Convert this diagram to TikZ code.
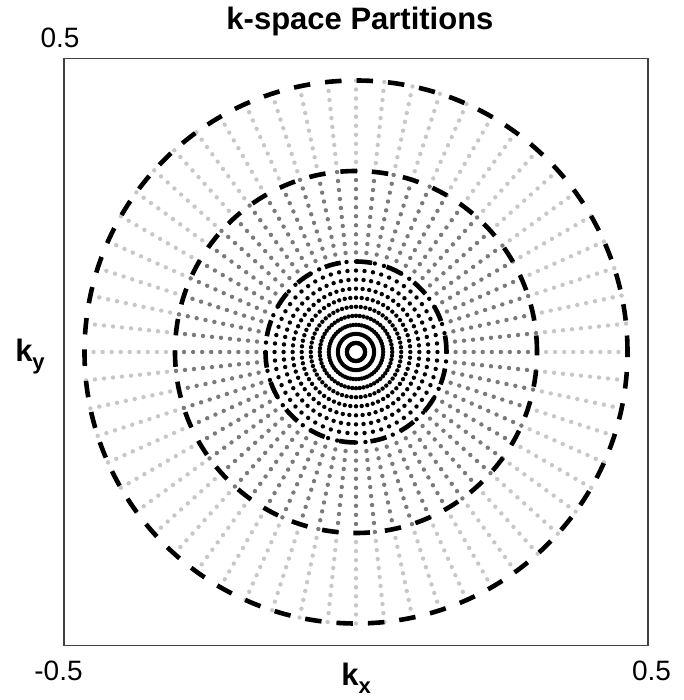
\documentclass[tikz,border=0pt]{standalone}
\usepackage{fontspec}
\setmainfont{Liberation Sans}
\newcommand{\ksub}[1]{k\raisebox{-8pt}{\fontsize{22}{24}\selectfont #1}}

\begin{document}
\begin{tikzpicture}[x=1pt, y=1pt,
    innerdot/.style = {fill=black},
    middot/.style = {fill=black!52},
    outerdot/.style = {fill=black!22},
    partition/.style = {draw=black, line width=4.6pt, dash pattern=on 16.5pt off 15pt},
    ticklabel/.style = {anchor=base, font=\fontsize{28}{30}\selectfont},
    axislabel/.style = {anchor=base, font=\bfseries\fontsize{31}{33}\selectfont}
]
\useasboundingbox (-356,-348) rectangle (327,352);

% axes box
\draw [line width=1.2pt, draw=black!75] (-292,-293.5) rectangle (292,293.5);

% samples along the radial spokes, shaded by partition
\foreach \first/\last/\sty in {1/10/innerdot, 11/20/middot, 21/30/outerdot} {
  \foreach \a in {0,6,...,354} {
    \foreach \k in {\first,...,\last} {
      \fill [\sty] ({\a}:{\k*9.05}) circle [radius=2.2];
    }
  }
}

% partition borders
\foreach \r in {90.5,181,271.5}
  \draw [partition] (0,0) circle [radius=\r];

\node (title) [axislabel] at (4,322) {k-space Partitions};
\node (ymax) [ticklabel] at (-296,304) {0.5};
\node (xmin) [ticklabel] at (-297.5,-328) {-0.5};
\node (xmax) [ticklabel] at (295.5,-328) {0.5};
\node (kx) [axislabel] at (0,-333) {\ksub{x}};
\node (ky) [axislabel] at (-326,-10) {\ksub{y}};
\end{tikzpicture}
\end{document}
